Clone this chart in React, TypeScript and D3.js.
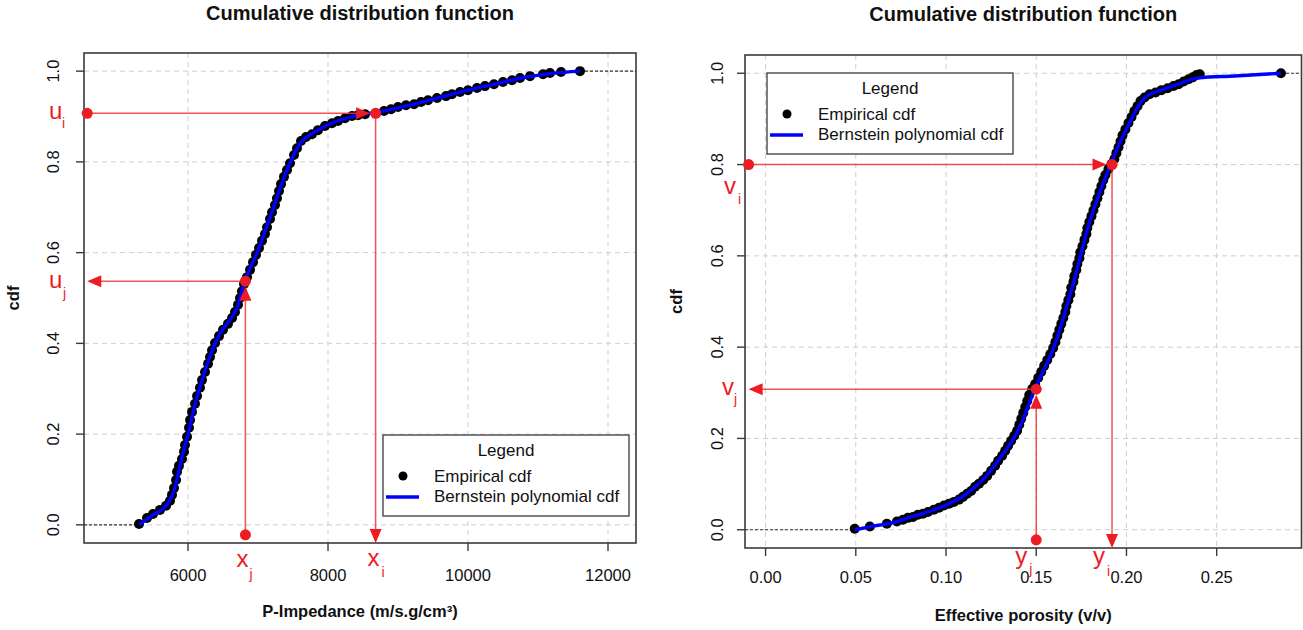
import React from 'react';
import * as d3 from 'd3';

const FONT = '"Liberation Sans", Arial, Helvetica, sans-serif';

// ---- P-impedance (m/s.g/cm³): sorted sample values and empirical cdf ----
const impedanceSamples = [
  5300, 5414, 5500, 5600, 5686, 5743, 5771, 5800, 5829, 5843, 5871, 5914, 5943, 5957, 5986,
  6014, 6029, 6057, 6100, 6129, 6171, 6200, 6243, 6286, 6314, 6343, 6386, 6443, 6500, 6571,
  6629, 6671, 6714, 6743, 6771, 6800, 6843, 6886, 6929, 6971, 7014, 7057, 7100, 7129, 7171,
  7200, 7243, 7271, 7300, 7329, 7371, 7414, 7457, 7514, 7557, 7614, 7686, 7771, 7857, 7957,
  8057, 8143, 8243, 8343, 8429, 8529, 8686, 8800, 8900, 9000, 9114, 9229, 9329, 9429, 9557,
  9686, 9771, 9886, 10000, 10129, 10243, 10371, 10500, 10629, 10743, 10886, 11071, 11171, 11329, 11600,
];
const impedanceCdf = [
  0.002, 0.015, 0.024, 0.033, 0.042, 0.053, 0.066, 0.081, 0.099, 0.117, 0.13, 0.145, 0.161, 0.176, 0.194,
  0.214, 0.231, 0.249, 0.267, 0.284, 0.302, 0.319, 0.337, 0.355, 0.37, 0.385, 0.401, 0.416, 0.43, 0.443,
  0.456, 0.469, 0.485, 0.5, 0.515, 0.531, 0.546, 0.562, 0.579, 0.595, 0.61, 0.626, 0.641, 0.656, 0.674,
  0.689, 0.705, 0.72, 0.736, 0.751, 0.767, 0.782, 0.797, 0.815, 0.83, 0.846, 0.855, 0.861, 0.87, 0.879,
  0.885, 0.89, 0.896, 0.901, 0.903, 0.905, 0.907, 0.912, 0.916, 0.921, 0.925, 0.927, 0.932, 0.936, 0.941,
  0.945, 0.949, 0.954, 0.958, 0.963, 0.967, 0.971, 0.976, 0.98, 0.985, 0.989, 0.993, 0.996, 0.998, 1.0,
];
// Bernstein polynomial cdf estimate for P-impedance
const bernsteinImpedance = [
  5300, 5500, 5700, 5800, 5900, 6000, 6100, 6200, 6300, 6400, 6500, 6600, 6700, 6800, 7000,
  7200, 7400, 7600, 7800, 8000, 8400, 8800, 9200, 9600, 10000, 10400, 10800, 11200, 11600,
];
const bernsteinImpedanceCdf = [
  0.0, 0.022, 0.045, 0.075, 0.14, 0.2, 0.265, 0.318, 0.365, 0.404, 0.432, 0.452, 0.478, 0.531, 0.605,
  0.69, 0.777, 0.84, 0.865, 0.882, 0.902, 0.912, 0.926, 0.942, 0.958, 0.972, 0.986, 0.995, 1.0,
];

// ---- Effective porosity (v/v): sorted sample values and empirical cdf ----
const porositySamples = [
  0.0494, 0.0578, 0.0672, 0.0728, 0.0761, 0.0789, 0.0817, 0.0844, 0.0872, 0.09, 0.0933, 0.0961, 0.0989,
  0.1017, 0.1044, 0.1072, 0.1094, 0.1117, 0.1139, 0.1161, 0.1183, 0.1206, 0.1228, 0.125, 0.1272, 0.1289,
  0.1311, 0.1328, 0.1344, 0.1361, 0.1378, 0.1394, 0.1406, 0.1417, 0.1428, 0.1439, 0.145, 0.1461, 0.1478,
  0.1494, 0.1511, 0.1528, 0.1544, 0.1561, 0.1578, 0.1594, 0.1606, 0.1617, 0.1628, 0.1639, 0.165, 0.1661,
  0.1667, 0.1678, 0.1689, 0.1694, 0.1706, 0.1711, 0.1722, 0.1728, 0.1739, 0.1744, 0.1756, 0.1767, 0.1778,
  0.1783, 0.1794, 0.1806, 0.1817, 0.1828, 0.1839, 0.185, 0.1861, 0.1872, 0.1883, 0.19, 0.1917, 0.1933,
  0.1944, 0.1956, 0.1967, 0.1978, 0.1994, 0.2011, 0.2028, 0.2044, 0.2061, 0.2078, 0.21, 0.2128, 0.2161,
  0.2194, 0.2228, 0.2261, 0.2289, 0.2317, 0.2344, 0.2367, 0.2389, 0.2406, 0.2856,
];
const porosityCdf = [
  0.002, 0.007, 0.013, 0.018, 0.022, 0.026, 0.028, 0.033, 0.035, 0.039, 0.044, 0.048, 0.053,
  0.057, 0.061, 0.066, 0.072, 0.079, 0.085, 0.094, 0.101, 0.109, 0.118, 0.129, 0.14, 0.151,
  0.162, 0.173, 0.184, 0.195, 0.206, 0.217, 0.23, 0.243, 0.256, 0.269, 0.282, 0.295, 0.309,
  0.319, 0.333, 0.346, 0.359, 0.372, 0.385, 0.398, 0.411, 0.425, 0.438, 0.451, 0.464, 0.477,
  0.49, 0.503, 0.516, 0.53, 0.543, 0.556, 0.569, 0.582, 0.595, 0.608, 0.621, 0.635, 0.648,
  0.661, 0.674, 0.687, 0.7, 0.713, 0.726, 0.74, 0.753, 0.766, 0.777, 0.79, 0.801, 0.812,
  0.825, 0.838, 0.851, 0.864, 0.877, 0.891, 0.904, 0.917, 0.928, 0.939, 0.947, 0.954, 0.958,
  0.963, 0.967, 0.972, 0.976, 0.982, 0.987, 0.991, 0.996, 0.998, 1.0,
];
// Bernstein polynomial cdf estimate for effective porosity
const bernsteinPorosity = [
  0.0494, 0.06, 0.07, 0.08, 0.09, 0.1, 0.11, 0.12, 0.13, 0.14, 0.15, 0.16, 0.17, 0.18, 0.19,
  0.2, 0.21, 0.22, 0.23, 0.24, 0.26, 0.2856,
];
const bernsteinPorosityCdf = [
  0.0, 0.008, 0.015, 0.027, 0.039, 0.054, 0.075, 0.108, 0.157, 0.218, 0.316, 0.402, 0.532, 0.68, 0.788,
  0.878, 0.946, 0.964, 0.978, 0.99, 0.994, 1.0,
];

// ---- Axis ticks ----
const cdfTicks = [0, 0.2, 0.4, 0.6, 0.8, 1.0];
const cdfTickLabels = ['0.0', '0.2', '0.4', '0.6', '0.8', '1.0'];
const impedanceTicks = [6000, 8000, 10000, 12000];
const impedanceTickLabels = ['6000', '8000', '10000', '12000'];
const porosityTicks = [0, 0.05, 0.1, 0.15, 0.2, 0.25];
const porosityTickLabels = ['0.00', '0.05', '0.10', '0.15', '0.20', '0.25'];

// ---- Transformation markers: level u = F(x) and x = F^-1(u), [i, j] ----
const impedanceLevels = [0.907, 0.537];
const impedanceValues = [8680, 6820];
const impedanceOrigin = 4560;
const porosityLevels = [0.8, 0.308];
const porosityValues = [0.192, 0.15];
const porosityOrigin = -0.0094;
const markerFloor = -0.022;

const RED = '#ec1c24';
const RED_LINE = '#ef3434';
const DOT_R = 5.5;
const SAMPLE_R = 5;

type Dir = 'left' | 'right' | 'up' | 'down';
function arrowHead(tx: number, ty: number, dir: Dir, len = 14, half = 6): string {
  let pts: number[][];
  if (dir === 'right') pts = [[tx, ty], [tx - len, ty - half], [tx - len, ty + half]];
  else if (dir === 'left') pts = [[tx, ty], [tx + len, ty - half], [tx + len, ty + half]];
  else if (dir === 'down') pts = [[tx, ty], [tx - half, ty - len], [tx + half, ty - len]];
  else pts = [[tx, ty], [tx - half, ty + len], [tx + half, ty + len]];
  return pts.map((p) => p.join(',')).join(' ');
}

type Label = { text: string; sub: string; x: number; y: number; sx: number; sy: number };

type PanelProps = {
  x: d3.ScaleLinear<number, number>;
  y: d3.ScaleLinear<number, number>;
  samples: number[];
  cdf: number[];
  curveX: number[];
  curveY: number[];
  xTicks: number[];
  xTickLabels: string[];
  title: string;
  xLabel: string;
  yLabelX: number;
  yTickLabelX: number;
  xTickLabelY: number;
  xLabelY: number;
  titleY: number;
  legendX: number;
  legendY: number;
  levels: number[];
  values: number[];
  origin: number;
  labels: Label[];
};

function CdfPanel(p: PanelProps) {
  const { x, y } = p;
  const [left, right] = x.range();
  const [bottom, top] = y.range();
  const cx = (left + right) / 2;
  const cy = (bottom + top) / 2;

  const curve = d3
    .line<number>()
    .x((d) => x(d))
    .y((_, i) => y(p.curveY[i]))
    .curve(d3.curveMonotoneX)(p.curveX) as string;

  const first = p.samples[0];
  const last = p.samples[p.samples.length - 1];

  // forward mapping (i): level -> curve -> value axis
  const iy = y(p.levels[0]);
  const ix = x(p.values[0]);
  // inverse mapping (j): value -> curve -> level axis
  const jy = y(p.levels[1]);
  const jx = x(p.values[1]);
  const ox = x(p.origin);
  const fy = y(markerFloor);

  const lw = 246;
  const lh = 81;
  const lx = p.legendX;
  const ly = p.legendY;

  return (
    <g fontFamily={FONT}>
      {/* grid */}
      <g stroke="#cfcfcf" strokeWidth={1} strokeDasharray="5,4">
        {p.xTicks.map((t) => (
          <line key={'gx' + t} x1={x(t)} x2={x(t)} y1={top} y2={bottom} />
        ))}
        {cdfTicks.map((t) => (
          <line key={'gy' + t} x1={left} x2={right} y1={y(t)} y2={y(t)} />
        ))}
      </g>
      {/* ecdf extensions beyond the sample range */}
      <g stroke="#333" strokeWidth={1.1} strokeDasharray="3,2">
        <line x1={left} x2={x(first)} y1={y(0)} y2={y(0)} />
        <line x1={x(last)} x2={right} y1={y(1)} y2={y(1)} />
      </g>
      {/* empirical cdf */}
      <g fill="#000">
        {p.samples.map((s, i) => (
          <circle key={'pt' + i} cx={x(s)} cy={y(p.cdf[i])} r={SAMPLE_R} />
        ))}
      </g>
      {/* Bernstein polynomial cdf */}
      <path d={curve} fill="none" stroke="#0000ff" strokeWidth={3.4} strokeLinejoin="round" />

      {/* frame */}
      <rect x={left} y={top} width={right - left} height={bottom - top} fill="none" stroke="#3a3a3a" strokeWidth={1.6} />

      {/* axes */}
      <g stroke="#3a3a3a" strokeWidth={1.4}>
        {p.xTicks.map((t) => (
          <line key={'tx' + t} x1={x(t)} x2={x(t)} y1={bottom} y2={bottom + 8} />
        ))}
        {cdfTicks.map((t) => (
          <line key={'ty' + t} x1={left} x2={left - 8} y1={y(t)} y2={y(t)} />
        ))}
      </g>
      <g fontSize={16.5} fill="#111" textAnchor="middle">
        {p.xTicks.map((t, i) => (
          <text key={'lx' + t} x={x(t)} y={p.xTickLabelY}>
            {p.xTickLabels[i]}
          </text>
        ))}
        {cdfTicks.map((t, i) => (
          <text key={'ly' + t} transform={`translate(${p.yTickLabelX},${y(t)}) rotate(-90)`}>
            {cdfTickLabels[i]}
          </text>
        ))}
      </g>
      <text x={cx} y={p.xLabelY} textAnchor="middle" fontSize={16.5} fontWeight="bold" fill="#111">
        {p.xLabel}
      </text>
      <text
        transform={`translate(${p.yLabelX},${cy}) rotate(-90)`}
        textAnchor="middle"
        fontSize={16.5}
        fontWeight="bold"
        fill="#111"
      >
        cdf
      </text>
      <text x={cx} y={p.titleY} textAnchor="middle" fontSize={20} fontWeight="bold" fill="#111">
        {p.title}
      </text>

      {/* legend */}
      <g>
        <rect x={lx} y={ly} width={lw} height={lh} fill="#fff" stroke="#3a3a3a" strokeWidth={1.3} />
        <text x={lx + lw / 2} y={ly + 21} textAnchor="middle" fontSize={17} fill="#111">
          Legend
        </text>
        <circle cx={lx + 20} cy={ly + 41} r={4.5} fill="#000" />
        <text x={lx + 51} y={ly + 47} fontSize={17} fill="#111">
          Empirical cdf
        </text>
        <line x1={lx + 3} x2={lx + 36} y1={ly + 62} y2={ly + 62} stroke="#0000ff" strokeWidth={3.4} />
        <text x={lx + 51} y={ly + 67} fontSize={17} fill="#111">
          Bernstein polynomial cdf
        </text>
      </g>

      {/* transformation markers */}
      <g stroke={RED_LINE} strokeWidth={1.5} strokeOpacity={0.85}>
        <line x1={ox} x2={ix - DOT_R - 2} y1={iy} y2={iy} />
        <line x1={ix} x2={ix} y1={iy} y2={bottom - 2} />
        <line x1={jx} x2={jx} y1={fy} y2={jy + DOT_R + 2} />
        <line x1={jx} x2={ox + 2} y1={jy} y2={jy} />
      </g>
      <g fill={RED}>
        <polygon points={arrowHead(ix - DOT_R, iy, 'right')} />
        <polygon points={arrowHead(ix, bottom, 'down')} />
        <polygon points={arrowHead(jx, jy + DOT_R, 'up')} />
        <polygon points={arrowHead(ox, jy, 'left')} />
        <circle cx={ox} cy={iy} r={DOT_R} />
        <circle cx={ix} cy={iy} r={DOT_R} />
        <circle cx={jx} cy={fy} r={DOT_R} />
        <circle cx={jx} cy={jy} r={DOT_R} />
      </g>
      <g fill={RED}>
        {p.labels.map((l, i) => (
          <g key={'ml' + i}>
            <text x={l.x} y={l.y} fontSize={24}>
              {l.text}
            </text>
            <text x={l.sx} y={l.sy} fontSize={14}>
              {l.sub}
            </text>
          </g>
        ))}
      </g>
    </g>
  );
}

export default function App() {
  const cdfDomain = [-0.04, 1.04];
  const xImp = d3.scaleLinear().domain([4514, 12400]).range([84, 636]);
  const yImp = d3.scaleLinear().domain(cdfDomain).range([543, 53]);
  const xPor = d3.scaleLinear().domain([-0.0114, 0.297]).range([745, 1301.5]);
  const yPor = d3.scaleLinear().domain(cdfDomain).range([548, 55]);

  const impLabels: Label[] = [
    { text: 'u', sub: 'i', x: 49, y: yImp(impedanceLevels[0]) + 6, sx: 62, sy: yImp(impedanceLevels[0]) + 15 },
    { text: 'u', sub: 'j', x: 49, y: yImp(impedanceLevels[1]) + 7, sx: 63, sy: yImp(impedanceLevels[1]) + 17 },
    { text: 'x', sub: 'i', x: xImp(impedanceValues[0]) - 8, y: 566, sx: xImp(impedanceValues[0]) + 6, sy: 577 },
    { text: 'x', sub: 'j', x: xImp(impedanceValues[1]) - 9, y: 567, sx: xImp(impedanceValues[1]) + 4, sy: 579 },
  ];
  const porLabels: Label[] = [
    { text: 'v', sub: 'i', x: 724, y: yPor(porosityLevels[0]) + 29, sx: 738, sy: yPor(porosityLevels[0]) + 39 },
    { text: 'v', sub: 'j', x: 722, y: yPor(porosityLevels[1]) + 6, sx: 734, sy: yPor(porosityLevels[1]) + 15 },
    { text: 'y', sub: 'i', x: xPor(porosityValues[0]) - 19, y: 564, sx: xPor(porosityValues[0]) - 5, sy: 576 },
    { text: 'y', sub: 'j', x: xPor(porosityValues[1]) - 21, y: 564, sx: xPor(porosityValues[1]) - 7, sy: 574 },
  ];

  return (
    <div style={{ position: 'absolute', left: 0, top: 0 }}>
      <svg width={1303} height={630} style={{ display: 'block', background: '#fff' }}>
        <rect x={0} y={0} width={1303} height={630} fill="#fff" />
        <CdfPanel
          x={xImp}
          y={yImp}
          samples={impedanceSamples}
          cdf={impedanceCdf}
          curveX={bernsteinImpedance}
          curveY={bernsteinImpedanceCdf}
          xTicks={impedanceTicks}
          xTickLabels={impedanceTickLabels}
          title="Cumulative distribution function"
          xLabel="P-Impedance (m/s.g/cm³)"
          yLabelX={19}
          yTickLabelX={58.5}
          xTickLabelY={581}
          xLabelY={617}
          titleY={20}
          legendX={383}
          legendY={435}
          levels={impedanceLevels}
          values={impedanceValues}
          origin={impedanceOrigin}
          labels={impLabels}
        />
        <CdfPanel
          x={xPor}
          y={yPor}
          samples={porositySamples}
          cdf={porosityCdf}
          curveX={bernsteinPorosity}
          curveY={bernsteinPorosityCdf}
          xTicks={porosityTicks}
          xTickLabels={porosityTickLabels}
          title="Cumulative distribution function"
          xLabel="Effective porosity (v/v)"
          yLabelX={682}
          yTickLabelX={723}
          xTickLabelY={583}
          xLabelY={621}
          titleY={21}
          legendX={767}
          legendY={73}
          levels={porosityLevels}
          values={porosityValues}
          origin={porosityOrigin}
          labels={porLabels}
        />
      </svg>
    </div>
  );
}
